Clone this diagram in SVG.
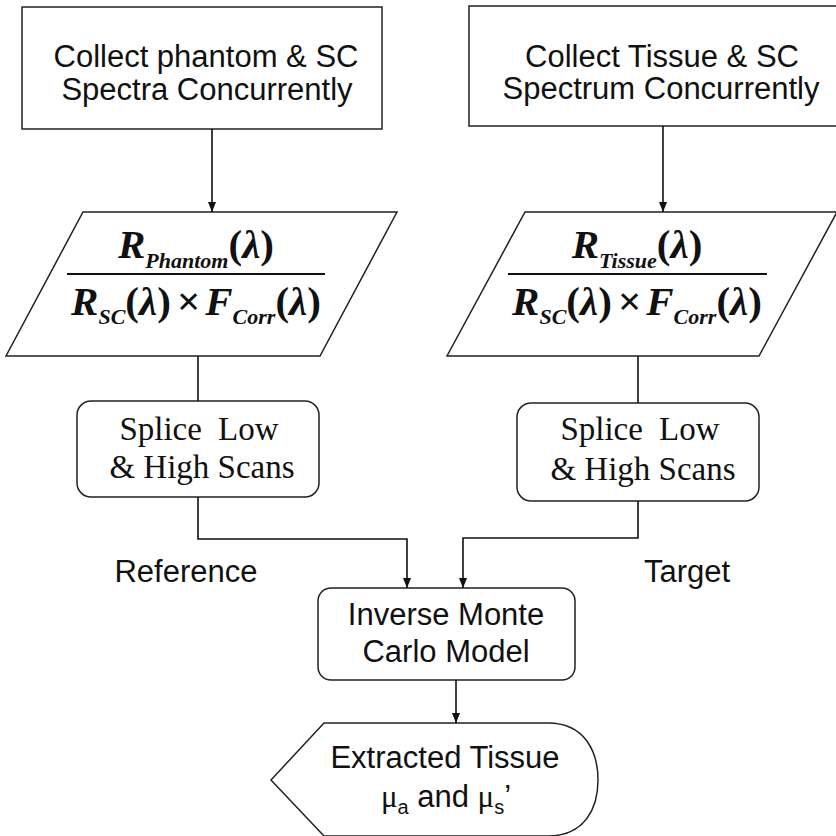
<svg xmlns="http://www.w3.org/2000/svg" width="836" height="836" viewBox="0 0 836 836">
<style>
.box{fill:#fff;stroke:#222;stroke-width:1.5}
.ln{fill:none;stroke:#111;stroke-width:1.6}
.sans{font-family:"Liberation Sans",Arial,sans-serif;font-size:31px;fill:#111;text-anchor:middle}
.serif{font-family:"Liberation Serif","Times New Roman",serif;font-size:33px;fill:#111;text-anchor:middle}
.eq{font-family:"Liberation Serif","Times New Roman",serif;font-size:41px;font-weight:bold;fill:#111;text-anchor:middle}
.it{font-style:italic}
.sub{font-size:22px;font-style:italic}
</style>
<defs>
<marker id="ah" markerUnits="userSpaceOnUse" markerWidth="10" markerHeight="8" refX="10" refY="4" orient="auto">
<path d="M0,0 L10,4 L0,8 Z" fill="#111"/>
</marker>
</defs>
<rect width="836" height="836" fill="#fff"/>

<g id="collect-phantom">
<rect class="box" x="22" y="7" width="360" height="122"/>
<text class="sans" x="206" y="67">Collect phantom &amp; SC</text>
<text class="sans" x="207" y="100">Spectra Concurrently</text>
</g>

<g id="collect-tissue">
<rect class="box" x="469" y="6" width="390" height="120"/>
<text class="sans" x="662" y="67">Collect Tissue &amp; SC</text>
<text class="sans" x="661" y="99">Spectrum Concurrently</text>
</g>

<g id="ratio-phantom">
<polygon class="box" points="83,212 397,212 320,356 6,356"/>
<line x1="67" y1="274" x2="325" y2="274" stroke="#111" stroke-width="2"/>
<text class="eq" x="196" y="258"><tspan class="it">R</tspan><tspan class="sub" dy="10">Phantom</tspan><tspan dy="-10">(</tspan><tspan class="it">λ</tspan>)</text>
<text class="eq" x="196" y="315"><tspan class="it">R</tspan><tspan class="sub" dy="9">SC</tspan><tspan dy="-9">(</tspan><tspan class="it">λ</tspan>)<tspan dx="6">×</tspan><tspan class="it" dx="5">F</tspan><tspan class="sub" dy="9">Corr</tspan><tspan dy="-9">(</tspan><tspan class="it">λ</tspan>)</text>
</g>

<g id="ratio-tissue">
<polygon class="box" points="525,212 837,212 759,356 447,356"/>
<line x1="508" y1="274" x2="767" y2="274" stroke="#111" stroke-width="2"/>
<text class="eq" x="637" y="258"><tspan class="it">R</tspan><tspan class="sub" dy="10">Tissue</tspan><tspan dy="-10">(</tspan><tspan class="it">λ</tspan>)</text>
<text class="eq" x="637" y="315"><tspan class="it">R</tspan><tspan class="sub" dy="9">SC</tspan><tspan dy="-9">(</tspan><tspan class="it">λ</tspan>)<tspan dx="6">×</tspan><tspan class="it" dx="5">F</tspan><tspan class="sub" dy="9">Corr</tspan><tspan dy="-9">(</tspan><tspan class="it">λ</tspan>)</text>
</g>

<g id="splice-left">
<rect class="box" x="77" y="401" width="242" height="96" rx="14"/>
<text class="serif" x="199" y="440" word-spacing="8">Splice Low</text>
<text class="serif" x="202" y="478">&amp; High Scans</text>
</g>

<g id="splice-right">
<rect class="box" x="517" y="403" width="242" height="98" rx="14"/>
<text class="serif" x="640" y="440" word-spacing="8">Splice Low</text>
<text class="serif" x="643" y="480">&amp; High Scans</text>
</g>

<g id="monte-carlo">
<rect class="box" x="318" y="588" width="257" height="92" rx="13"/>
<text class="sans" x="446" y="625">Inverse Monte</text>
<text class="sans" x="446" y="662">Carlo Model</text>
</g>

<g id="extracted">
<path class="box" d="M271,780 L324,723 L548,723 C585,723 598,752 598,780 C598,808 585,836 548,836 L324,836 Z"/>
<text class="sans" x="445" y="768">Extracted Tissue</text>
<text class="sans" x="446" y="807"><tspan font-family="Liberation Serif,serif">μ</tspan><tspan font-size="20" dy="7">a</tspan><tspan dy="-7"> and </tspan><tspan font-family="Liberation Serif,serif">μ</tspan><tspan font-size="20" dy="7">s</tspan><tspan dy="-7">’</tspan></text>
</g>

<g id="labels">
<text class="sans" x="186" y="582">Reference</text>
<text class="sans" x="687" y="582">Target</text>
</g>

<g id="connectors">
<line class="ln" x1="212" y1="129" x2="212" y2="212" marker-end="url(#ah)"/>
<line class="ln" x1="663" y1="126" x2="663" y2="212" marker-end="url(#ah)"/>
<line class="ln" x1="198" y1="356" x2="198" y2="401"/>
<line class="ln" x1="638" y1="356" x2="638" y2="403"/>
<polyline class="ln" points="198,497 198,539 407,539 407,588" marker-end="url(#ah)"/>
<polyline class="ln" points="638,501 638,538 463,538 463,588" marker-end="url(#ah)"/>
<line class="ln" x1="456" y1="680" x2="456" y2="723" marker-end="url(#ah)"/>
</g>
</svg>
